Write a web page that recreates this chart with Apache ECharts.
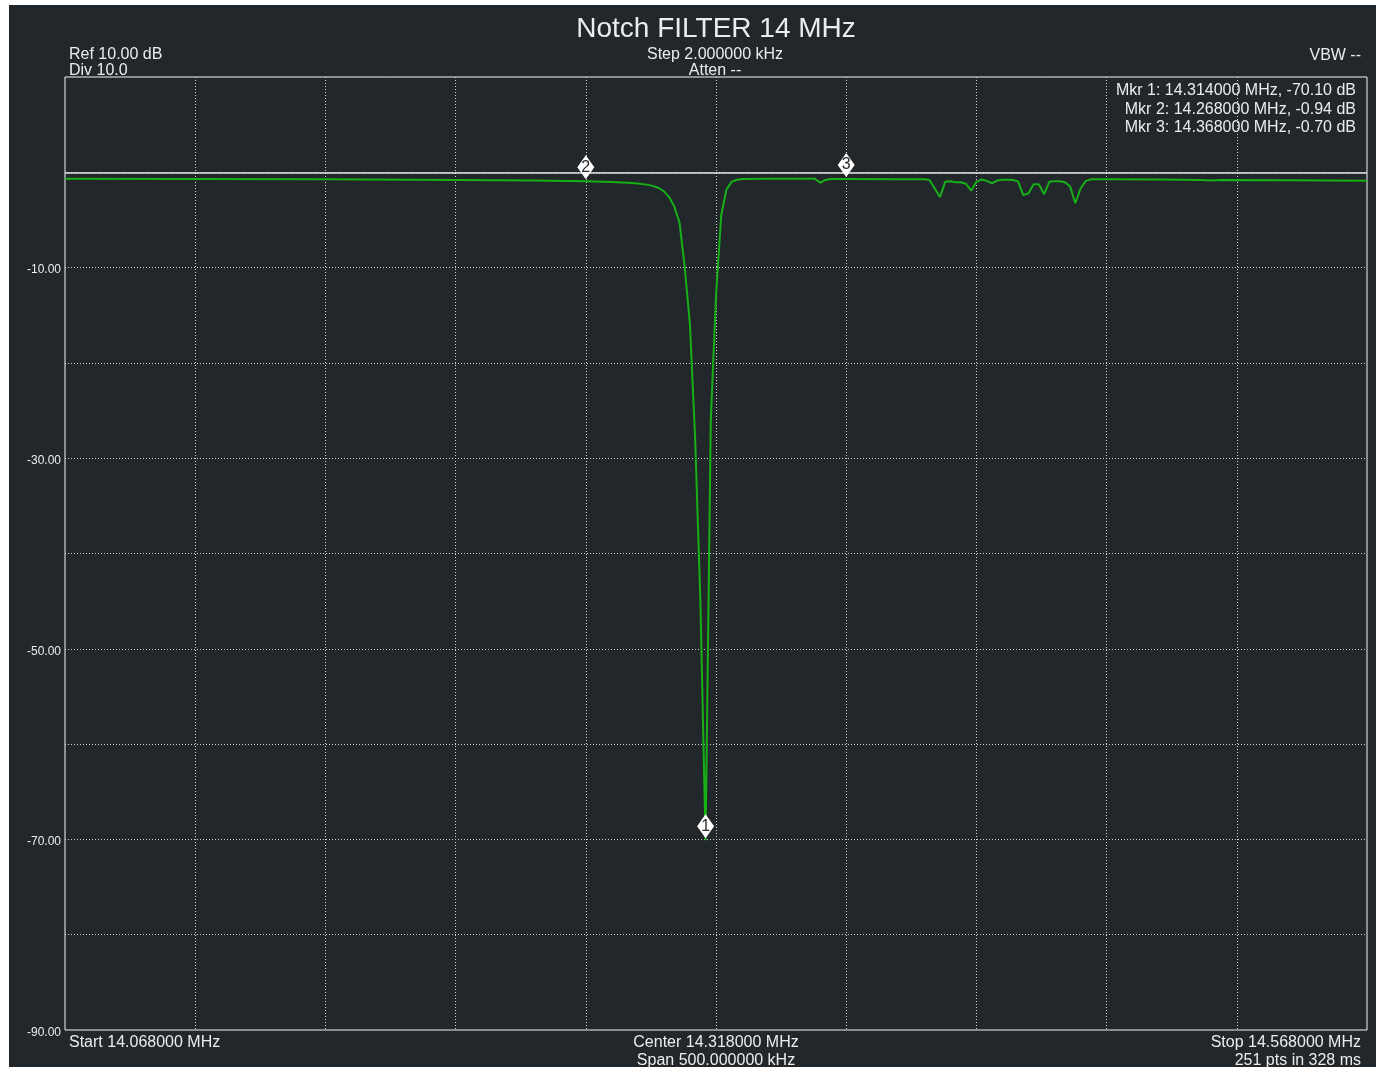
<!DOCTYPE html>
<html>
<head>
<meta charset="utf-8">
<title>Notch FILTER 14 MHz</title>
<script src="https://cdn.jsdelivr.net/npm/echarts@6/dist/echarts.min.js"></script>
<style>
  html, body { margin: 0; padding: 0; background: #ffffff; width: 1376px; height: 1067px; overflow: hidden; }
  #chart { position: absolute; left: 9px; top: 5px; width: 1367px; height: 1062px; }
</style>
</head>
<body>
<div id="chart"></div>
<script>
// Sweep settings
const START_MHZ = 14.068;
const STOP_MHZ = 14.568;
const CENTER_MHZ = 14.318;
const STEP_KHZ = 2;
const SPAN_KHZ = 500;
const REF_DB = 10;
const DIV_DB = 10;

// Trace: sweep point index (2 kHz steps from start) and measured level in dB
const stepIdx = [
  0, 25, 50, 75, 90, 100, 105, 108, 110, 112, 113, 114, 115, 116, 117, 118, 119,
  120, 121, 122, 123, 124, 125, 126, 127, 128, 129, 130, 135, 140, 144, 145, 146,
  147, 150, 160, 165, 166, 167, 168, 169, 170, 171, 172, 173, 174, 175, 176, 177,
  178, 179, 180, 181, 182, 183, 184, 185, 186, 187, 188, 189, 190, 191, 192, 193,
  194, 195, 196, 197, 200, 210, 218, 220, 222, 235, 250
];
const levelDb = [
  -0.67, -0.70, -0.74, -0.80, -0.86, -0.94, -1.02, -1.10, -1.18, -1.32, -1.45, -1.65, -2.00, -2.60, -3.60, -5.30, -10.0,
  -16.0, -28.0, -45.0, -70.10, -26.0, -13.0, -4.5, -1.8, -1.0, -0.78, -0.70, -0.67, -0.67, -0.68, -1.10, -0.80,
  -0.70, -0.70, -0.72, -0.74, -0.80, -1.70, -2.60, -1.00, -0.95, -1.05, -1.05, -1.20, -1.93, -1.00, -0.75, -0.90,
  -1.15, -0.85, -0.78, -0.78, -0.80, -0.95, -2.40, -2.20, -1.25, -1.25, -2.30, -1.00, -0.95, -0.95, -1.05, -1.50,
  -3.25, -1.70, -0.90, -0.74, -0.72, -0.76, -0.80, -0.86, -0.80, -0.84, -0.88
];

// Markers
const markerMHz = [14.314, 14.268, 14.368];
const markerDb = [-70.10, -0.94, -0.70];

const FONT = '"Liberation Sans", Arial, sans-serif';
const TEXT = '#ececec';

const traceData = stepIdx.map((s, i) => [s * STEP_KHZ, levelDb[i]]);
const markerData = markerMHz.map((f, i) => ({
  value: [Math.round((f - START_MHZ) * 1000), markerDb[i]],
  name: String(i + 1)
}));

function txt(x, y, s, align, size) {
  return {
    type: 'text', x: x, y: y, silent: true,
    style: {
      text: s, fill: TEXT, font: (size || 16) + 'px ' + FONT,
      textAlign: align || 'left', textVerticalAlign: 'middle'
    }
  };
}

const readout = markerMHz.map((f, i) =>
  'Mkr ' + (i + 1) + ': ' + f.toFixed(6) + ' MHz, ' + markerDb[i].toFixed(2) + ' dB');

const graphics = [
  txt(707, 24, 'Notch FILTER 14 MHz', 'center', 28),
  txt(60, 50, 'Ref ' + REF_DB.toFixed(2) + ' dB'),
  txt(60, 66, 'Div ' + DIV_DB.toFixed(1)),
  txt(706, 50, 'Step ' + STEP_KHZ.toFixed(6) + ' kHz', 'center'),
  txt(706, 66, 'Atten --', 'center'),
  txt(1352, 51, 'VBW --', 'right'),
  txt(1347, 86, readout[0], 'right'),
  txt(1347, 104.5, readout[1], 'right'),
  txt(1347, 123, readout[2], 'right'),
  txt(60, 1038, 'Start ' + START_MHZ.toFixed(6) + ' MHz'),
  txt(707, 1038, 'Center ' + CENTER_MHZ.toFixed(6) + ' MHz', 'center'),
  txt(707, 1056, 'Span ' + SPAN_KHZ.toFixed(6) + ' kHz', 'center'),
  txt(1352, 1038, 'Stop ' + STOP_MHZ.toFixed(6) + ' MHz', 'right'),
  txt(1352, 1056, '251 pts in 328 ms', 'right')
];

const gridLine = { show: true, showMinLine: false, showMaxLine: false,
  lineStyle: { color: '#d2d2d2', width: 1, type: [1, 2] } };

const chart = echarts.init(document.getElementById('chart'), null, { renderer: 'canvas' });
chart.setOption({
  backgroundColor: '#22272b',
  animation: false,
  textStyle: { fontFamily: FONT },
  grid: {
    left: 56, top: 72, width: 1302, height: 953,
    show: true, borderColor: '#f4f4f4', borderWidth: 1, backgroundColor: 'transparent'
  },
  xAxis: {
    type: 'value', min: 0, max: SPAN_KHZ, interval: 50,
    axisLine: { show: false }, axisTick: { show: false }, axisLabel: { show: false },
    splitLine: gridLine
  },
  yAxis: {
    type: 'value', min: REF_DB - 100, max: REF_DB, interval: DIV_DB,
    axisLine: { show: false }, axisTick: { show: false },
    axisLabel: {
      color: TEXT, fontSize: 12, fontFamily: FONT, margin: 4,
      verticalAlign: 'top', lineHeight: 5,
      formatter: v => (v % 20 === -10 ? v.toFixed(2) : '')
    },
    splitLine: gridLine
  },
  series: [
    {
      type: 'line', data: traceData, showSymbol: false, smooth: false,
      lineStyle: { color: '#17b017', width: 2 }, z: 3,
      markLine: {
        silent: true, symbol: 'none', label: { show: false },
        lineStyle: { color: '#e6e6e6', width: 1.5, type: 'solid' },
        data: [{ yAxis: 0 }]
      }
    },
    {
      type: 'scatter', data: markerData, symbol: 'diamond', symbolSize: [17, 24],
      symbolOffset: [0, -14], z: 5,
      itemStyle: { color: '#ffffff', borderColor: '#ffffff', borderWidth: 0, opacity: 1 },
      label: {
        show: true, position: 'inside', formatter: p => p.name,
        color: '#2a2a2a', fontSize: 16, fontFamily: FONT
      }
    }
  ],
  graphic: graphics
});
</script>
</body>
</html>
